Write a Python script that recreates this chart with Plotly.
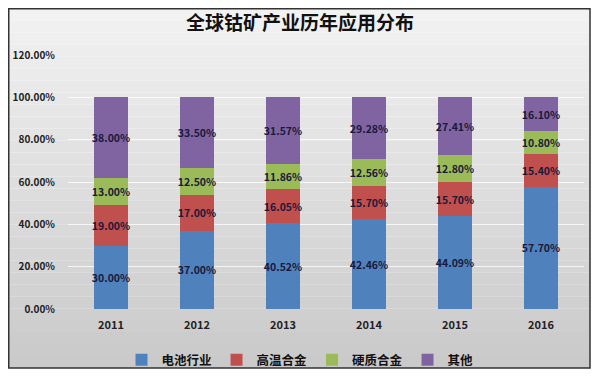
import plotly.graph_objects as go

years = ["2011", "2012", "2013", "2014", "2015", "2016"]
battery = [30.00, 37.00, 40.52, 42.46, 44.09, 57.70]
superalloy = [19.00, 17.00, 16.05, 15.70, 15.70, 15.40]
hardalloy = [13.00, 12.50, 11.86, 12.56, 12.80, 10.80]
other = [38.00, 33.50, 31.57, 29.28, 27.41, 16.10]
series_names = ["电池行业", "高温合金", "硬质合金", "其他"]
colors = ["#4f81bd", "#c0504d", "#9bbb59", "#8064a2"]
yticks = [0, 20, 40, 60, 80, 100, 120]

FONT = "Noto Sans CJK SC"
fig = go.Figure()
for name, vals, c in zip(series_names, [battery, superalloy, hardalloy, other], colors):
    fig.add_trace(go.Bar(
        x=years, y=vals, name=name, marker=dict(color=c, line=dict(width=0)),
        text=[f"{v:.2f}%" for v in vals], textposition="inside",
        insidetextanchor="middle", textangle=0, constraintext="none",
        textfont=dict(family=FONT, size=10.5, color="#1a1a3a", weight="bold"),
        width=0.4,
    ))

# page body adds an 8px offset, so the figure is 592x370
W, H = 592, 370
L, R, T, B = 60, 16, 47, 69
pw, ph = W - L - R, H - T - B
def px2x(px): return (px - L) / pw
def py2y(py): return (H - B - py) / ph
x0, x1, y0, y1 = 0.75, 582, 0.75, 360
n = 30
shapes = []
for i in range(n):
    ya = y0 + (y1 - y0) * i / n
    yb = y0 + (y1 - y0) * (i + 1) / n
    t = i / (n - 1)
    g = int(242 - 40 * t)
    shapes.append(dict(type="rect", xref="paper", yref="paper",
                       x0=px2x(x0), x1=px2x(x1), y0=py2y(yb), y1=py2y(ya),
                       fillcolor=f"rgb({g},{g},{g})", line=dict(width=0), layer="below"))
shapes.append(dict(type="rect", xref="paper", yref="paper",
                   x0=px2x(x0), x1=px2x(x1), y0=py2y(y1), y1=py2y(y0),
                   fillcolor="rgba(0,0,0,0)", line=dict(color="#333333", width=1.5), layer="above"))

fig.update_layout(
    width=W, height=H, barmode="stack", bargap=0.6,
    margin=dict(l=L, r=R, t=T, b=B, autoexpand=False),
    paper_bgcolor="white", plot_bgcolor="rgba(0,0,0,0)",
    shapes=shapes,
    title=dict(text="全球钴矿产业历年应用分布", x=292 / W, xref="container", xanchor="center",
               y=1 - 15 / H, yanchor="middle",
               font=dict(family=FONT, size=19, color="#111111", weight="bold")),
    font=dict(family=FONT),
    xaxis=dict(showgrid=False, showline=False, ticks="", automargin=False, ticklabelstandoff=8,
               tickfont=dict(family=FONT, size=11, color="#222222", weight="bold")),
    yaxis=dict(range=[0, 120], tickvals=yticks, ticktext=[f"{v:.2f}%" for v in yticks],
               showgrid=True, gridcolor="rgba(255,255,255,0.75)", gridwidth=1, zeroline=False,
               automargin=False, ticklabelstandoff=12,
               tickfont=dict(family=FONT, size=10, color="#222222", weight="bold"), ticklen=0),
    legend=dict(orientation="h", x=px2x(292), xanchor="center", y=py2y(337), yanchor="top",
                font=dict(family=FONT, size=12.5, color="#111111", weight="bold"),
                bgcolor="rgba(0,0,0,0)", itemwidth=30, traceorder="normal"),
)
fig.write_html("out.html")
